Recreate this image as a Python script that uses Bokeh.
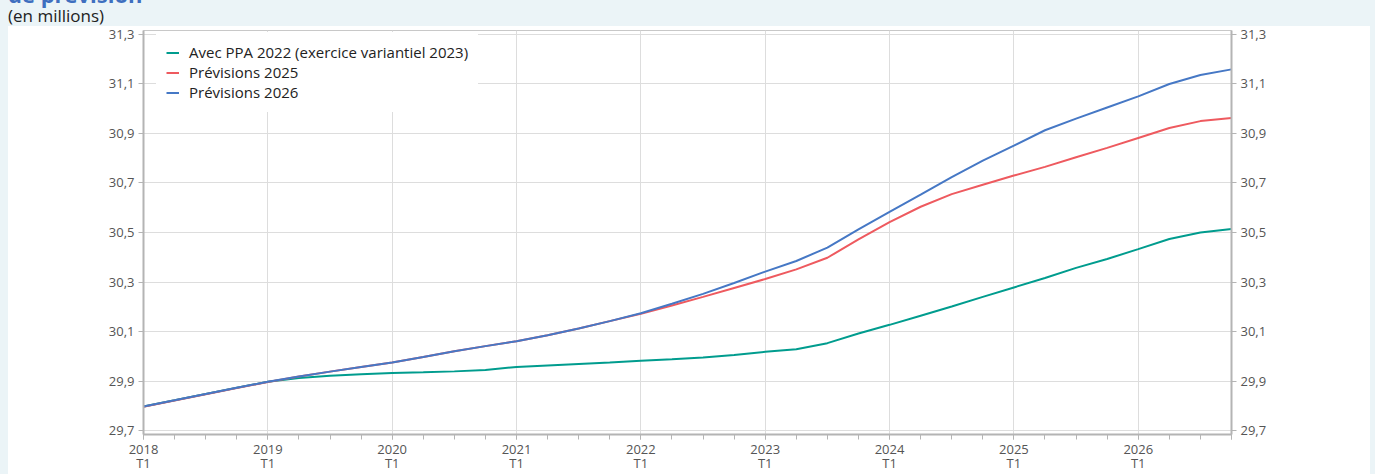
from bokeh.plotting import figure
from bokeh.models import (Range1d, LinearAxis, FixedTicker, Legend, LegendItem, Div,
                          ColumnDataSource)
from bokeh.layouts import column, row
from bokeh.embed import file_html
from bokeh.resources import INLINE

# ---------------- data ----------------
quarters = [
    "2018T1", "2018T2", "2018T3", "2018T4",
    "2019T1", "2019T2", "2019T3", "2019T4",
    "2020T1", "2020T2", "2020T3", "2020T4",
    "2021T1", "2021T2", "2021T3", "2021T4",
    "2022T1", "2022T2", "2022T3", "2022T4",
    "2023T1", "2023T2", "2023T3", "2023T4",
    "2024T1", "2024T2", "2024T3", "2024T4",
    "2025T1", "2025T2", "2025T3", "2025T4",
    "2026T1", "2026T2", "2026T3", "2026T4",
]

ppa_2022 = [
    29.797, 29.822, 29.848, 29.873,
    29.897, 29.912, 29.921, 29.927,
    29.932, 29.935, 29.939, 29.945,
    29.957, 29.963, 29.969, 29.975,
    29.982, 29.988, 29.995, 30.005,
    30.018, 30.028, 30.053, 30.092,
    30.127, 30.164, 30.201, 30.240,
    30.278, 30.316, 30.357, 30.393,
    30.433, 30.474, 30.500, 30.514,
]

prev_2025 = [
    29.796, 29.821, 29.847, 29.872,
    29.896, 29.918, 29.938, 29.957,
    29.975, 29.997, 30.020, 30.041,
    30.061, 30.085, 30.112, 30.142,
    30.172, 30.205, 30.240, 30.276,
    30.312, 30.351, 30.398, 30.472,
    30.542, 30.604, 30.655, 30.693,
    30.730, 30.765, 30.804, 30.842,
    30.882, 30.922, 30.950, 30.963,
]

prev_2026 = [
    29.797, 29.822, 29.848, 29.873,
    29.897, 29.918, 29.938, 29.957,
    29.975, 29.997, 30.020, 30.041,
    30.061, 30.085, 30.112, 30.142,
    30.174, 30.212, 30.252, 30.296,
    30.342, 30.385, 30.439, 30.513,
    30.583, 30.653, 30.724, 30.790,
    30.851, 30.913, 30.960, 31.005,
    31.050, 31.100, 31.136, 31.159,
]

series_names = ["Avec PPA 2022 (exercice variantiel 2023)", "Prévisions 2025", "Prévisions 2026"]
series_colors = ["#009C8E", "#EE5A5F", "#4678C5"]

year_ticks = [2018, 2019, 2020, 2021, 2022, 2023, 2024, 2025, 2026]
year_labels = ["2018\nT1", "2019\nT1", "2020\nT1", "2021\nT1", "2022\nT1",
               "2023\nT1", "2024\nT1", "2025\nT1", "2026\nT1"]

y_ticks = [29.7, 29.9, 30.1, 30.3, 30.5, 30.7, 30.9, 31.1, 31.3]
y_labels = ["29,7", "29,9", "30,1", "30,3", "30,5", "30,7", "30,9", "31,1", "31,3"]

title_tail = "de prévision"
subtitle = "(en millions)"

# ---------------- build ----------------
x_vals = [int(q[:4]) + (int(q[-1]) - 1) / 4 for q in quarters]
src = ColumnDataSource(dict(x=x_vals, a=ppa_2022, b=prev_2025, c=prev_2026))

FONT = "Open Sans"
BG = "#EBF4F7"

header_html = (
    '<div style="position:relative;width:1375px;height:26px;">'
    '<div style="position:absolute;left:8px;top:-17px;font-family:\'Open Sans\';'
    'font-weight:bold;font-size:22px;line-height:22px;color:#3F6FBF;white-space:nowrap;">'
    + title_tail + '</div>'
    '<div style="position:absolute;left:8px;top:7px;font-family:\'Open Sans\';'
    'font-size:17px;line-height:18px;color:#222222;white-space:nowrap;">'
    + subtitle + '</div></div>'
)
header = Div(text=header_html, width=1375, height=26, margin=0,
             styles={"background-color": BG})

FIG_H = 448
p = figure(width=1362, height=FIG_H,
           x_range=Range1d(2018, 2026.75), y_range=Range1d(29.684, 31.316),
           output_backend="svg", toolbar_location=None,
           min_border_left=135, min_border_right=139, min_border_top=4, min_border_bottom=34,
           border_fill_color="white", background_fill_color="white",
           outline_line_color="#c8c8c8", outline_line_width=1, margin=0)

renderers = []
for key, color in zip(["a", "b", "c"], series_colors):
    r = p.line("x", key, source=src, line_color=color, line_width=2)
    renderers.append(r)

quarter_ticks = list(x_vals) + [2026.75]

xa = p.xaxis[0]
xa.ticker = FixedTicker(ticks=year_ticks, minor_ticks=quarter_ticks)
xa.major_label_overrides = dict(zip(year_ticks, year_labels))
xa.major_tick_out = 5
xa.major_tick_in = 0
xa.minor_tick_out = 5
xa.minor_tick_in = 0
xa.major_label_standoff = 0
xa.major_label_text_line_height = 0.8

ya = p.yaxis[0]
ya.ticker = FixedTicker(ticks=y_ticks)
ya.major_label_overrides = dict(zip(y_ticks, y_labels))

yr = LinearAxis(ticker=FixedTicker(ticks=y_ticks))
yr.major_label_overrides = dict(zip(y_ticks, y_labels))
p.add_layout(yr, "right")

for ax in [xa, ya, yr]:
    ax.axis_line_color = "#b4b4b4"
    ax.axis_line_width = 2
    ax.major_tick_line_color = "#b4b4b4"
    ax.minor_tick_line_color = "#b4b4b4"
    ax.major_label_text_font = FONT
    ax.major_label_text_font_size = "13px"
    ax.major_label_text_color = "#555555"

for ax in [ya, yr]:
    ax.major_tick_out = 5
    ax.major_tick_in = 0
    ax.minor_tick_line_color = None
    ax.major_label_standoff = 4

p.xgrid.ticker = FixedTicker(ticks=year_ticks)
p.ygrid.ticker = FixedTicker(ticks=y_ticks)
p.xgrid.grid_line_color = "#dddddd"
p.ygrid.grid_line_color = "#dddddd"

legend = Legend(
    items=[LegendItem(label=n, renderers=[r]) for n, r in zip(series_names, renderers)],
    location=(13, 322), padding=0, spacing=0,
    glyph_width=13, glyph_height=17, label_height=17, label_standoff=10,
    label_text_font=FONT, label_text_font_size="15px", label_text_color="#222222",
    background_fill_color="white", background_fill_alpha=1.0,
    border_line_color="white", border_line_alpha=1.0, border_line_width=10,
)
p.add_layout(legend)

left_pad = Div(text="", width=8, height=FIG_H, margin=0, styles={"background-color": BG})
right_pad = Div(text="", width=5, height=FIG_H, margin=0, styles={"background-color": BG})

layout = column(header, row(left_pad, p, right_pad, spacing=0), spacing=0)
open("out.html", "w").write(file_html(layout, INLINE))
